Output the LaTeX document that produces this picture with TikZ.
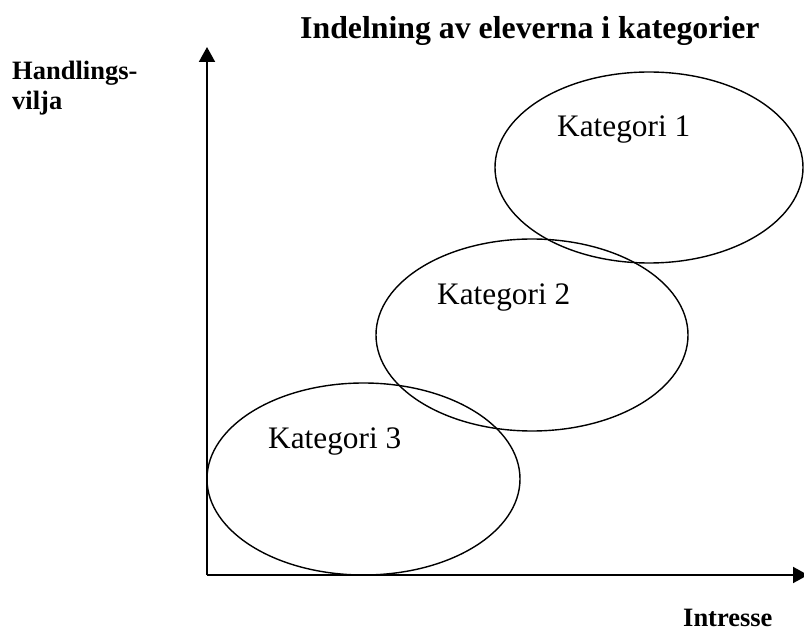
\documentclass[tikz,border=0pt]{standalone}
\usepackage{fontspec}
\setmainfont{Liberation Serif}
\usetikzlibrary{arrows.meta}
\tikzset{
  axis/.style={line width=2pt,-{Triangle[length=15pt,width=16pt]}},
  cat/.style={line width=1.4pt},
  catlabel/.style={anchor=base west,inner sep=0pt,font=\fontsize{31.3}{37}\selectfont},
  axlabel/.style={anchor=base west,inner sep=0pt,font=\fontsize{26.5}{30}\selectfont\bfseries,align=left},
  titlelabel/.style={anchor=base west,inner sep=0pt,font=\fontsize{31.8}{38}\selectfont\bfseries}
}
\begin{document}
\begin{tikzpicture}[x=1pt,y=-1pt]
\useasboundingbox (0,0) rectangle (804,628);
\coordinate (origin) at (207,575);
\coordinate (ytip) at (207,47);
\coordinate (xtip) at (808,575);
\draw[axis] (origin) -- (ytip);
\draw[axis] (origin) -- (xtip);
\draw[cat] (649,167.5) ellipse [x radius=154, y radius=95.5];
\draw[cat] (532,335) ellipse [x radius=156, y radius=96];
\draw[cat] (363.5,479) ellipse [x radius=156.5, y radius=96];
\node[catlabel] (k1) at (557,137) {Kategori 1};
\node[catlabel] (k2) at (437,305) {Kategori 2};
\node[catlabel] (k3) at (268,449) {Kategori 3};
\node[titlelabel] (title) at (300,39) {Indelning av eleverna i kategorier};
\node[axlabel] (hv) at (12,110) {Handlings-\\vilja};
\node[axlabel] (in) at (683,626) {Intresse};
\end{tikzpicture}
\end{document}
